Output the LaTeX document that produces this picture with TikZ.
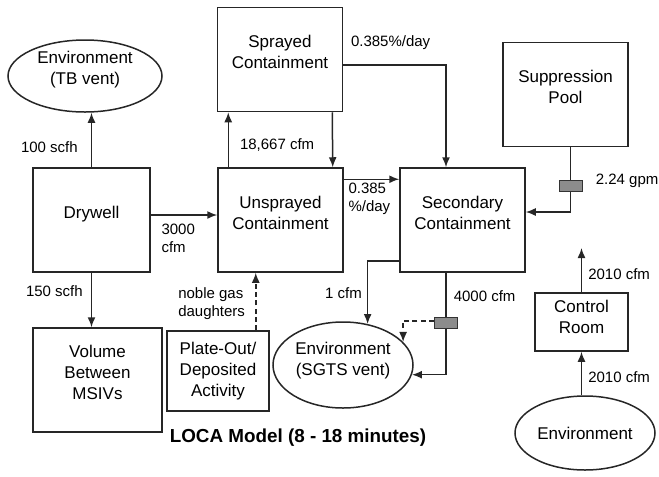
\documentclass[tikz,border=0pt]{standalone}
\usepackage{fontspec}
\setmainfont{Liberation Sans}
\usetikzlibrary{arrows.meta,positioning,shapes.geometric}

\begin{document}
\begin{tikzpicture}[x=0.6pt,y=-0.6pt,
        box/.style={draw=black!85,line width=0.9pt,minimum width=75pt,minimum height=62.4pt,
            align=center,font=\fontsize{10.2}{12.6}\selectfont,text depth=9pt,inner sep=0pt},
        vent/.style={ellipse,draw=black!85,line width=0.9pt,minimum width=84pt,
            align=center,font=\fontsize{10.2}{12.6}\selectfont,inner sep=0pt},
        pipe/.style={draw=black!85,line width=0.9pt},
        flow/.style={pipe,-{Latex[length=6pt,width=4.8pt]}},
        rate/.style={font=\fontsize{9}{11}\selectfont,align=left,inner sep=1pt},
        valve/.style={draw=black!80,fill=black!45,line width=0.6pt,minimum width=13.8pt,
            minimum height=6.6pt,inner sep=0pt}]

    \useasboundingbox (0,0) rectangle (659,476);

    \node[vent,minimum width=92.4pt,minimum height=43.2pt,text depth=10pt] (tbvent) at (85,76) {Environment\\(TB vent)};
    \node[box] (sprayed) at (280,59.5) {Sprayed\\Containment};
    \node[box] (pool) at (565.5,94.5) {Suppression\\Pool};
    \node[box,minimum width=70.2pt] (drywell) at (91.5,220) {Drywell};
    \node[box] (unsprayed) at (280.5,220) {Unsprayed\\Containment};
    \node[box] (secondary) at (462.5,220) {Secondary\\Containment};
    \node[box,minimum width=77.4pt] (volume) at (97.5,380) {Volume\\Between\\MSIVs};
    \node[box,minimum width=61.2pt,minimum height=48pt,text depth=2pt] (plate) at (218,371) {Plate-Out/\\Deposited\\Activity};
    \node[box,minimum width=55.8pt,minimum height=34.8pt,text depth=6pt] (control) at (581.5,322) {Control\\Room};
    \node[vent,minimum height=51.6pt,text depth=8pt] (sgts) at (343,365) {Environment\\(SGTS vent)};
    \node[vent,minimum height=44.4pt] (envr) at (585,433) {Environment};
    \node[valve] (poolvalve) at (570.5,185.5) {};
    \node[valve] (sgtsvalve) at (446,322.5) {};
    \coordinate (crout) at (581.5,248);
    \node[font=\bfseries\fontsize{11.3}{13}\selectfont] (title) at (298,438) {LOCA Model (8 - 18 minutes)};

    \draw[flow] (drywell.north) -- (drywell.north |- tbvent.south) node[rate,left=6.8pt,pos=0.36] {100 scfh};
    \draw[flow] (drywell.south) -- (volume.north -| drywell.south) node[rate,left=3.8pt,pos=0.33] {150 scfh};
    \draw[flow] ([yshift=3pt]drywell.east) -- ([yshift=3pt]unsprayed.west) node[rate,below right=4pt and 5pt,pos=0] {3000\\cfm};
    \draw[flow] ([xshift=6.6pt]unsprayed.north west) -- ([xshift=6.6pt]unsprayed.north west |- sprayed.south) node[rate,right=5.6pt,pos=0.4] {18,667 cfm};
    \draw[flow] ([xshift=-6.6pt]sprayed.south east) -- ([xshift=-6.6pt]unsprayed.north east);
    \draw[flow] ([yshift=-3.3pt]sprayed.east) -| ([xshift=-9.9pt]secondary.north) node[rate,above right=7.7pt and 3.2pt,pos=0] {0.385\%/day};
    \draw[flow] ([yshift=-7.2pt]unsprayed.north east) -- ([yshift=-7.2pt]secondary.north west) node[rate,below right=0.8pt and 1.4pt,pos=0] {0.385\\\%/day};
    \draw[pipe] (pool.south -| poolvalve.north) -- (poolvalve.north);
    \draw[flow] (poolvalve.south) |- ([yshift=4.8pt]secondary.east);
    \node[rate,right=6.8pt of poolvalve,yshift=3pt] (poolrate) {2.24 gpm};
    \draw[flow] ([yshift=7.2pt]secondary.south west) -| (sgts.59) node[rate,left=2pt,pos=0.76] {1 cfm};
    \draw[pipe] (secondary.south -| sgtsvalve.north) -- (sgtsvalve.north) node[rate,right=3.2pt,pos=0.53] {4000 cfm};
    \draw[flow] (sgtsvalve.south) |- (sgts.-8);
    \draw[flow,dash pattern=on 3pt off 2pt] ([yshift=0.9pt]sgtsvalve.west) -| (sgts.21);
    \draw[flow,dash pattern=on 3pt off 2pt] ([xshift=-8.4pt]plate.north east) -- ([xshift=-8.4pt]plate.north east |- unsprayed.south) node[rate,left=5pt,pos=0.46] {noble gas\\daughters};
    \draw[flow] (envr.north -| control.south) -- (control.south) node[rate,right=2.6pt,pos=0.42] {2010 cfm};
    \draw[flow] (control.north) -- (crout) node[rate,right=2.6pt,pos=0.4] {2010 cfm};
\end{tikzpicture}
\end{document}
